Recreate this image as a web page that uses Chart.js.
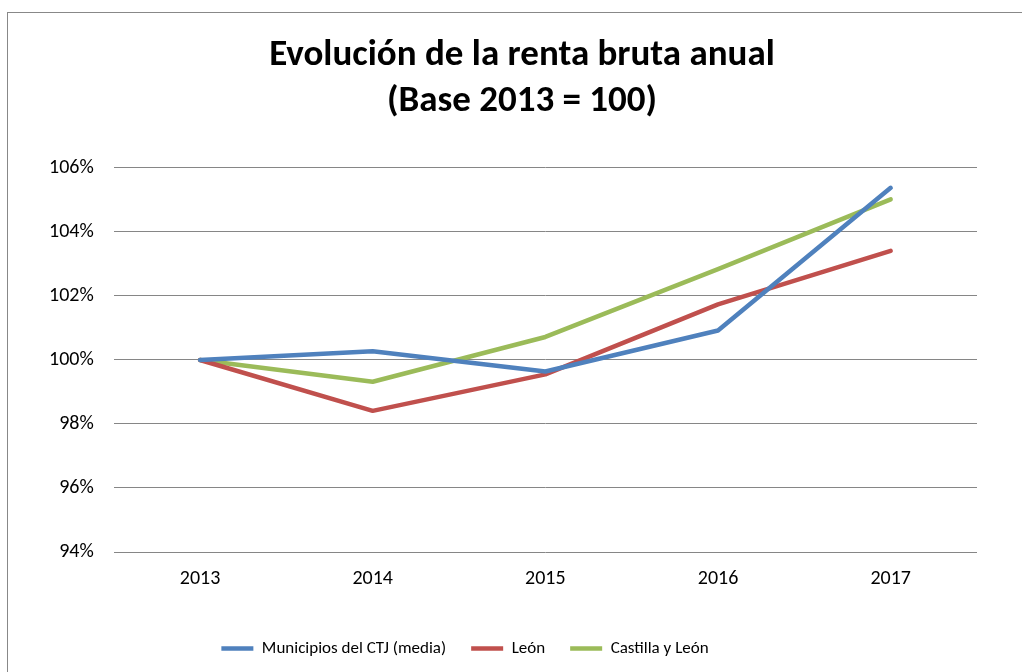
<!DOCTYPE html>
<html>
<head>
<meta charset="utf-8">
<script src="https://cdn.jsdelivr.net/npm/chart.js@4"></script>
<style>
    body { margin: 0; background: #fff; }
    #frame { position: absolute; left: 7px; top: 12px; width: 1100px; height: 700px;
             border-top: 1px solid #888; border-left: 1px solid #888; }
    #wrap { position: absolute; left: 0; top: 0; width: 1022px; height: 672px; }
</style>
</head>
<body>
<div id="frame"></div>
<div id="wrap"><canvas id="mainChart"></canvas></div>
<script>
    const years = ['2013', '2014', '2015', '2016', '2017'];
    const municipios = [100, 100.27, 99.64, 100.92, 105.38];
    const leon = [100, 98.41, 99.55, 101.74, 103.41];
    const castillaLeon = [100, 99.32, 100.72, 102.84, 105.02];

    const fuente = "Carlito, Lato, sans-serif";

    function serie(label, data, color) {
        return {
            label: label, data: data,
            borderColor: color, backgroundColor: color,
            borderWidth: 4.5, borderCapStyle: 'round', borderJoinStyle: 'round',
            pointRadius: 0, tension: 0
        };
    }

    // en el original el titulo y la leyenda no estan centrados en el canvas
    const ajustarCajas = {
        id: 'ajustarCajas',
        afterLayout(chart) {
            const lg = chart.legend;
            lg.left -= 38; lg.right -= 38;
            lg.top += 17; lg.bottom += 17;
            const t = chart.titleBlock;
            t.left += 19; t.right += 19;
        }
    };

    const ctx = document.getElementById('mainChart').getContext('2d');
    new Chart(ctx, {
        type: 'line',
        data: {
            labels: years,
            datasets: [
                serie('Municipios del CTJ (media)', municipios, '#4F81BD'),
                serie('León', leon, '#C0504D'),
                serie('Castilla y León', castillaLeon, '#9BBB59')
            ]
        },
        plugins: [ajustarCajas],
        options: {
            responsive: true,
            maintainAspectRatio: false,
            animation: false,
            layout: { padding: { left: 29, right: 45, top: 0, bottom: 22 } },
            plugins: {
                title: {
                    display: true,
                    text: ['Evolución de la renta bruta anual', '(Base 2013 = 100)'],
                    color: '#000',
                    font: { family: fuente, size: 37, weight: 'bold', lineHeight: 1.243 },
                    padding: { top: 33, bottom: 43 }
                },
                legend: {
                    position: 'bottom',
                    labels: {
                        color: '#000',
                        font: { family: fuente, size: 17 },
                        usePointStyle: true,
                        pointStyle: 'line',
                        pointStyleWidth: 32,
                        boxHeight: 17,
                        padding: 25
                    }
                },
                tooltip: { enabled: false }
            },
            scales: {
                x: {
                    offset: true,
                    grid: { display: false },
                    border: { display: false },
                    ticks: { color: '#000', font: { family: fuente, size: 20 }, padding: 7 }
                },
                y: {
                    min: 94, max: 106,
                    grid: { color: '#868686', lineWidth: 1, drawTicks: false },
                    border: { display: false },
                    ticks: {
                        stepSize: 2,
                        color: '#000',
                        font: { family: fuente, size: 20 },
                        padding: 20,
                        callback: v => v + '%'
                    }
                }
            }
        }
    });
</script>
</body>
</html>
